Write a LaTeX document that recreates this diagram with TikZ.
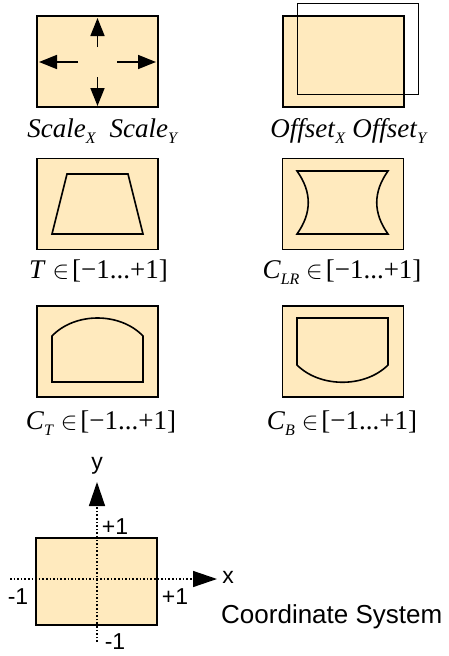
\documentclass[tikz,border=0pt]{standalone}
\usepackage{fontspec}
\setmainfont{Liberation Serif}
\newfontfamily\arialfont{Liberation Sans}
\usetikzlibrary{arrows.meta,calc,positioning}
\definecolor{panelfill}{RGB}{255,234,190}
\newcommand{\rng}{$\in$\hspace{3pt}[−1...+1]}
\newcommand{\sbs}[1]{\raisebox{-6pt}{\fontsize{16}{16}\selectfont\textit{#1}}}
\begin{document}
\begin{tikzpicture}[x=1pt,y=-1pt,>={Triangle[length=18pt,width=14pt]},
  panel/.style={draw,fill=panelfill,line width=1.6pt,minimum width=121pt,minimum height=91pt,inner sep=0pt},
  outl/.style={line width=1.6pt},
  lbl/.style={font=\fontsize{27}{27}\selectfont,inner sep=0pt,anchor=base},
  axis/.style={line width=1.4pt,dash pattern=on 1.6pt off 2pt,
               -{Triangle[length=24pt,width=16pt]}},
  axlbl/.style={font=\arialfont\fontsize{23}{23}\selectfont,inner sep=0pt}]
  \useasboundingbox (0,0) rectangle (448,656);
  \node[panel](p1) at (97.5,61.5) {};
  \node[panel](p2) at (343.5,61.5) {};
  \node[panel,fill=none](p2b) at (358,49) {};
  \node[panel](p3) at (97.5,204) {};
  \node[panel](p4) at (343,204) {};
  \node[panel](p5) at (97.5,351.5) {};
  \node[panel](p6) at (343,351.5) {};
  \node[lbl](l1) at (103,137) {\textit{Scale}\sbs{X}\ \ \textit{Scale}\sbs{Y}};
  \node[lbl](l2) at (349,137) {\textit{Offset}\sbs{X}\ \textit{Offset}\sbs{Y}};
  \node[lbl](l3) at (98.5,278) {\textit{T} \rng};
  \node[lbl](l4) at (342,278) {\textit{C}\sbs{LR} \rng};
  \node[lbl](l5) at (101,429) {\textit{C}\sbs{T} \rng};
  \node[lbl](l6) at (342,429) {\textit{C}\sbs{B} \rng};
  \coordinate (au) at (97.5,47);  \coordinate (tu) at (97.5,18);
  \coordinate (ad) at (97.5,77);  \coordinate (td) at (97.5,106);
  \coordinate (al) at (78,62);    \coordinate (tl) at (39,62);
  \coordinate (ar) at (117,62);   \coordinate (tr) at (156,62);
  \draw[->,line width=1.6pt](au)--(tu);
  \draw[->,line width=1.6pt](ad)--(td);
  \draw[->,line width=1.6pt](al)--(tl);
  \draw[->,line width=1.6pt](ar)--(tr);
  \draw[outl](67,174)--(128,174)--(143,234)--(52,234)--cycle;
  \draw[outl](297,171)--(388,171) .. controls (373,192) and (373,213) .. (388,234)
    --(297,234) .. controls (312,213) and (312,192) .. (297,171)--cycle;
  \draw[outl](52,382)--(52,336) .. controls (75,312) and (120,312) .. (143,336)--(143,382)--cycle;
  \draw[outl](297,318)--(388,318)--(388,365) .. controls (365,388) and (320,388) .. (297,365)--cycle;
  \node[panel,minimum height=87pt](cs) at (96.5,581.5) {};
  \coordinate (yb) at (97,642); \coordinate (yt) at (97,482);
  \coordinate (xb) at (10,579); \coordinate (xt) at (217,579);
  \draw[axis](yb)--(yt);
  \draw[axis](xb)--(xt);
  \node[axlbl](ly) at (97,466) {y};
  \node[axlbl](lx) at (228,577) {x};
  \node[axlbl](yp) at (115,527) {+1};
  \node[axlbl](ym) at (115,642) {-1};
  \node[axlbl](xm) at (18,597) {-1};
  \node[axlbl](xp) at (175,597) {+1};
  \node[axlbl,anchor=base west,font=\arialfont\fontsize{26}{26}\selectfont](cap) at (221,623) {Coordinate System};
\end{tikzpicture}
\end{document}
